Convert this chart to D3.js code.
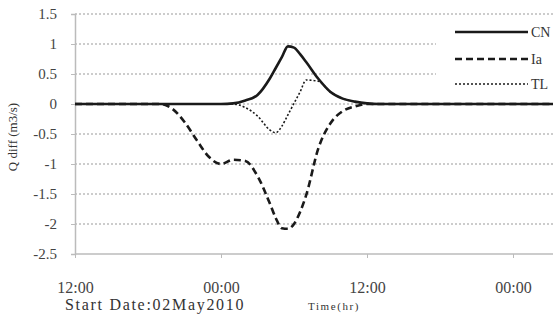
<!DOCTYPE html>
<html>
<head>
<meta charset="utf-8">
<script src="https://d3js.org/d3.v7.min.js"></script>
<style>
  body { margin: 0; background: #fff; }
  svg { display: block; font-family: "Liberation Serif", "DejaVu Serif", serif; }
</style>
</head>
<body>
<svg id="chart" width="553" height="324"></svg>
<script>
// hours since start (12:00, 02 May 2010)
const hours = [0, 6, 7, 8, 9, 10, 11, 12, 13, 14, 15, 16, 16.5, 17, 17.5, 18, 18.5, 19, 20, 21, 22, 23, 24, 25, 26, 42];
const cnValues = [0, 0, 0, 0, 0, 0, 0, 0, 0.01, 0.06, 0.15, 0.42, 0.6, 0.78, 0.96, 0.94, 0.83, 0.7, 0.42, 0.2, 0.09, 0.04, 0.01, 0, 0, 0];
const iaValues = [0, 0, 0, -0.08, -0.3, -0.6, -0.88, -1.0, -0.93, -0.95, -1.2, -1.65, -1.9, -2.07, -2.08, -2.0, -1.8, -1.52, -0.74, -0.32, -0.12, -0.04, 0, 0, 0, 0];
const tlValues = [0, 0, 0, 0, 0, 0, 0, 0, 0, -0.06, -0.2, -0.43, -0.48, -0.37, -0.18, 0.01, 0.2, 0.4, 0.38, 0.2, 0.09, 0.04, 0.01, 0, 0, 0];
const seriesNames = ["CN", "Ia", "TL"];
const yTicks = [1.5, 1, 0.5, 0, -0.5, -1, -1.5, -2, -2.5];
const xTickHours = [0, 12, 24, 36];
const xTickLabels = ["12:00", "00:00", "12:00", "00:00"];

const svg = d3.select("#chart");
const plotLeft = 75, plotTop = 14, plotBottom = 254;

const x = d3.scaleLinear().domain([0, 12]).range([plotLeft, plotLeft + 146]);
const y = d3.scaleLinear().domain([-2.5, 1.5]).range([plotBottom, plotTop]);

// grid lines
svg.append("g").selectAll("line")
    .data(yTicks.filter(d => d > -2.5))
    .enter().append("line")
    .attr("x1", plotLeft).attr("x2", 553)
    .attr("y1", d => y(d)).attr("y2", d => y(d))
    .attr("stroke", "#999").attr("stroke-width", 1)
    .attr("stroke-dasharray", "2,2");

// y axis (plain hyphen for negatives, like the original)
const yAxis = svg.append("g")
    .attr("transform", "translate(" + plotLeft + ",0)")
    .call(d3.axisLeft(y).tickValues(yTicks).tickSize(4).tickFormat(d => String(d)));
yAxis.select(".domain").attr("stroke", "#bbb").attr("stroke-width", 1.5);
yAxis.selectAll(".tick line").attr("stroke", "#bbb");
yAxis.selectAll("text").attr("font-size", 15).attr("fill", "#444")
    .attr("font-family", "Liberation Serif").attr("x", -18);

// x axis
const xAxis = svg.append("g")
    .attr("transform", "translate(0," + plotBottom + ")")
    .call(d3.axisBottom(x).tickValues(xTickHours).tickSize(4).tickFormat((d, i) => xTickLabels[i]));
xAxis.select(".domain").attr("stroke", "#bbb").attr("stroke-width", 1.5)
    .attr("d", "M" + plotLeft + ",0H553");
xAxis.selectAll(".tick line").attr("stroke", "#bbb");
xAxis.selectAll("text").attr("font-size", 16).attr("fill", "#444")
    .attr("font-family", "Liberation Serif").attr("dy", null).attr("y", 39);

// legend background covers grid
svg.append("rect").attr("x", 436).attr("y", 22).attr("width", 117).attr("height", 72).attr("fill", "#fff");

const styles = {
    CN: { width: 2.6, dash: null },
    Ia: { width: 2.6, dash: "7,4" },
    TL: { width: 1.6, dash: "2,2" }
};
const allValues = { CN: cnValues, Ia: iaValues, TL: tlValues };

const line = d3.line()
    .x((d, i) => x(hours[i]))
    .y(d => y(d))
    .curve(d3.curveMonotoneX);

// draw TL first, then Ia, then CN on top
["TL", "Ia", "CN"].forEach(name => {
    svg.append("path")
        .datum(allValues[name])
        .attr("d", line)
        .attr("fill", "none")
        .attr("stroke", "#1a1a1a")
        .attr("stroke-width", styles[name].width)
        .attr("stroke-dasharray", styles[name].dash);
});

// legend
const legendY = [32, 59, 84];
seriesNames.forEach((name, i) => {
    svg.append("line")
        .attr("x1", 455).attr("x2", 528)
        .attr("y1", legendY[i]).attr("y2", legendY[i])
        .attr("stroke", "#1a1a1a")
        .attr("stroke-width", styles[name].width)
        .attr("stroke-dasharray", styles[name].dash);
    svg.append("text")
        .attr("x", 531).attr("y", legendY[i] + 5)
        .attr("font-size", 14).attr("fill", "#333")
        .text(name);
});

// axis titles
svg.append("text")
    .attr("transform", "translate(17,137) rotate(-90)")
    .attr("text-anchor", "middle")
    .attr("font-size", 13).attr("fill", "#333")
    .text("Q diff (m3/s)");

svg.append("text")
    .attr("x", 65).attr("y", 310)
    .attr("font-size", 16).attr("fill", "#333")
    .attr("letter-spacing", 1.7)
    .text("Start Date:02May2010");

svg.append("text")
    .attr("x", 308).attr("y", 310)
    .attr("font-size", 11).attr("fill", "#333")
    .attr("letter-spacing", 1.6)
    .text("Time(hr)");
</script>
</body>
</html>
